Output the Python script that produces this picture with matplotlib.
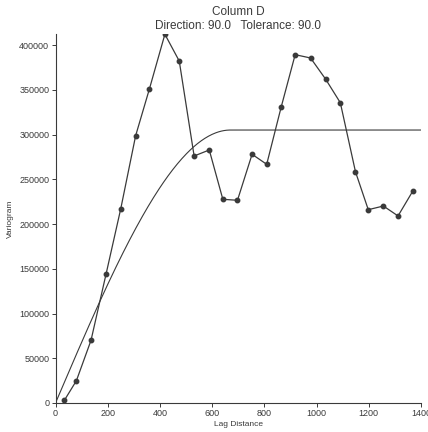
import numpy as np
import matplotlib
matplotlib.use("Agg")
import matplotlib.pyplot as plt

plt.rcParams['font.family'] = ['Liberation Sans', 'DejaVu Sans']

lag = [34, 80, 136, 194, 250, 307, 360, 419, 474, 531, 589, 641, 697, 753, 809,
       864, 918, 977, 1035, 1091, 1149, 1198, 1256, 1312, 1368]
gamma = [3000, 24900, 70000, 144500, 217100, 298700, 351200, 412000, 382100,
         276000, 282700, 227600, 226500, 277900, 266700, 330200, 389200, 385500,
         361700, 335500, 258400, 216000, 220100, 209000, 236500]

# Spherical model parameters
model_sill = 305000
model_range = 670
model_nugget = 0

x_ticks = [0, 200, 400, 600, 800, 1000, 1200, 1400]
y_ticks = [0, 50000, 100000, 150000, 200000, 250000, 300000, 350000, 400000]

col = '#3a3a3a'

fig = plt.figure(figsize=(4.28, 4.32), dpi=100)
ax = fig.add_axes([55.5/428, 1-403/432, (421-55.5)/428, (403-34)/432])

h = np.linspace(0, 1400, 400)
hr = np.clip(h / model_range, 0, 1)
model = model_nugget + (model_sill - model_nugget) * (1.5*hr - 0.5*hr**3)
ax.plot(h, model, color=col, lw=0.8)

ax.plot(lag, gamma, color=col, lw=0.9, marker='o', ms=3.2, mfc=col, mec=col)

ax.set_xlim(0, 1400)
ax.set_ylim(0, 412300)
ax.set_xticks(x_ticks)
ax.set_yticks(y_ticks)
ax.set_xticklabels([str(t) for t in x_ticks])
ax.set_yticklabels([str(t) for t in y_ticks])
for s in ['top', 'right']:
    ax.spines[s].set_visible(False)
for s in ['left', 'bottom']:
    ax.spines[s].set_color(col)
    ax.spines[s].set_linewidth(0.8)
ax.tick_params(direction='out', length=3, width=0.7, colors=col, labelsize=6.5, pad=1.5)
ax.set_xlabel('Lag Distance', fontsize=6, color=col, labelpad=2)
ax.set_ylabel('Variogram', fontsize=6, color=col, labelpad=4)

cx = (55.5 + 421) / 2 / 428
fig.text(cx, 1-12/432, 'Column D', ha='center', va='center', fontsize=8.5, color=col)
fig.text(cx, 1-26/432, 'Direction: 90.0   Tolerance: 90.0', ha='center', va='center',
         fontsize=8.5, color=col)

fig.savefig('out.png', dpi=100)
